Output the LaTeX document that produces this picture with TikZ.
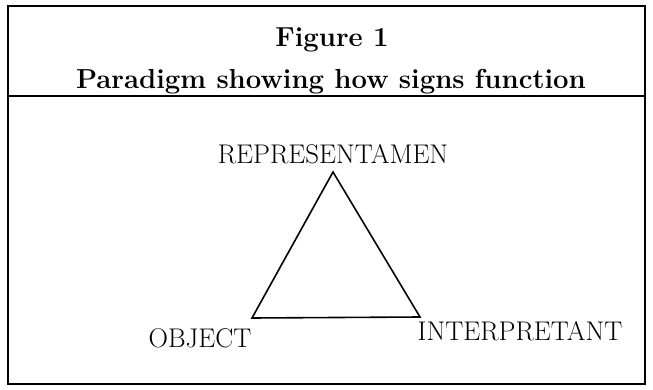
\documentclass[tikz,border=0pt]{standalone}
\usepackage{tikz}
\usetikzlibrary{positioning}

\begin{document}
\begin{tikzpicture}[
    x=1pt, y=1pt,
    frame/.style={draw, line width=1.4pt},
    title/.style={font=\bfseries\fontsize{27.5}{32}\selectfont, inner sep=0pt},
    label/.style={font=\fontsize{27}{30}\selectfont, inner sep=0pt},
    edge/.style={line width=1.6pt, line join=miter}
]
    \useasboundingbox (0,0) rectangle (653,389);

    % Frame
    \draw[frame] (8,5) rectangle (645,383);
    \draw[frame] (8,293) -- (645,293);

    % Title
    \node[title, anchor=base] (fig) at (332,342) {Figure 1};
    \node[title, anchor=base] (para) at (331,300) {Paradigm showing how signs function};

    % Corners
    \coordinate (top) at (333,217);
    \coordinate (left) at (252,71);
    \coordinate (right) at (420,72);

    % Triangle
    \draw[edge] (top) -- (left) -- (right) -- cycle;

    % Labels
    \node[label, anchor=base] (rep) at (333,226) {REPRESENTAMEN};
    \node[label, anchor=base] (obj) at (200,42) {OBJECT};
    \node[label, anchor=base] (interp) at (520,49) {INTERPRETANT};

\end{tikzpicture}
\end{document}
